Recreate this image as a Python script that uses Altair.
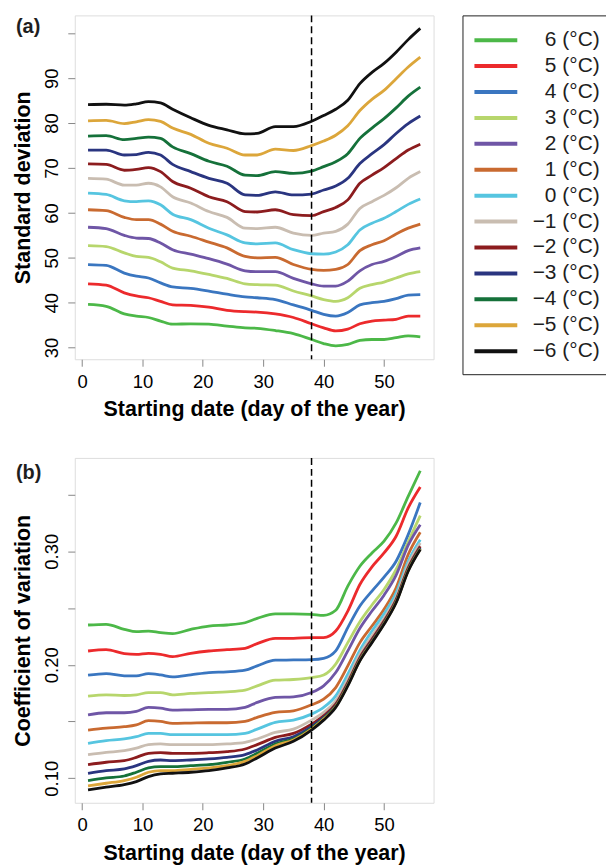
import altair as alt
import pandas as pd

# ---------------- data ----------------
DAYS = [1, 4, 7, 9, 11, 13, 15, 18, 21, 24, 27, 29, 32, 35, 38, 40, 42, 44, 46, 48, 50, 52, 54, 56]

MINUS = "\u2212"
LABELS = ["6 (°C)", "5 (°C)", "4 (°C)", "3 (°C)", "2 (°C)", "1 (°C)", "0 (°C)",
          MINUS + "1 (°C)", MINUS + "2 (°C)", MINUS + "3 (°C)", MINUS + "4 (°C)",
          MINUS + "5 (°C)", MINUS + "6 (°C)"]
COLORS = ["#4cb848", "#ec2a2c", "#3a76c0", "#b7d66c", "#6f56a6", "#c96a30", "#56c5e0",
          "#c9bdb1", "#8c1c1e", "#2a3580", "#15713a", "#dca63a", "#111111"]

CUTOFF_DAY = [38]

# standard deviation (panel a)
sd_6 = [39.6, 39.2, 37.5, 37.0, 36.7, 35.9, 35.2, 35.3, 35.2, 34.8, 34.4, 34.3, 33.8, 33.1, 31.8, 30.9, 30.4, 30.7, 31.6, 31.8, 31.8, 32.2, 32.6, 32.4]
sd_5 = [44.2, 43.9, 42.2, 41.5, 41.1, 40.3, 39.5, 39.4, 39.0, 38.3, 38.0, 37.9, 37.5, 36.7, 35.3, 34.4, 33.7, 34.1, 35.3, 35.9, 36.1, 36.3, 37.0, 37.0]
sd_4 = [48.5, 48.3, 46.6, 45.9, 45.5, 44.4, 43.5, 43.2, 42.6, 41.9, 41.3, 41.1, 40.7, 39.5, 38.3, 37.4, 37.0, 37.8, 39.5, 40.0, 40.3, 40.9, 41.7, 41.8]
sd_3 = [52.7, 52.5, 51.1, 50.3, 50.1, 49.1, 47.7, 47.1, 46.3, 45.4, 44.2, 44.0, 43.9, 42.6, 41.5, 40.7, 40.3, 41.1, 43.2, 44.0, 44.6, 45.5, 46.4, 46.9]
sd_2 = [56.8, 56.5, 55.0, 54.4, 54.3, 53.3, 51.8, 50.8, 49.8, 48.6, 47.1, 46.9, 46.9, 45.4, 44.2, 43.7, 43.7, 44.8, 47.1, 48.5, 49.2, 50.3, 51.6, 52.2]
sd_1 = [60.7, 60.5, 59.0, 58.5, 58.5, 57.5, 55.9, 54.8, 53.5, 52.2, 50.3, 50.0, 50.1, 48.5, 47.4, 47.2, 47.4, 48.5, 51.6, 52.9, 53.8, 55.3, 56.6, 57.5]
sd_0 = [64.4, 64.1, 62.7, 62.5, 62.7, 61.8, 59.7, 58.5, 56.6, 55.1, 53.3, 53.1, 53.3, 51.8, 50.9, 50.8, 51.3, 52.9, 56.2, 57.7, 58.8, 60.3, 61.9, 63.1]
sd_m1 = [67.7, 67.5, 66.2, 66.2, 66.6, 65.8, 63.6, 62.2, 60.3, 59.0, 56.6, 56.5, 56.8, 55.5, 55.0, 55.5, 55.9, 57.5, 61.0, 62.5, 63.9, 65.6, 67.7, 69.2]
sd_m2 = [70.9, 70.8, 69.5, 69.7, 70.1, 69.2, 67.0, 65.5, 63.6, 62.5, 60.3, 60.2, 60.7, 59.6, 59.4, 60.3, 61.2, 62.9, 66.6, 68.4, 70.1, 72.1, 74.0, 75.3]
sd_m3 = [74.0, 74.0, 72.9, 73.0, 73.5, 72.9, 70.8, 69.2, 67.7, 66.6, 64.0, 63.9, 64.7, 64.0, 64.2, 65.1, 66.0, 67.7, 71.0, 73.2, 75.2, 77.7, 79.9, 81.6]
sd_m4 = [77.1, 77.2, 76.3, 76.6, 76.9, 76.6, 74.7, 73.2, 71.5, 70.4, 68.4, 68.3, 69.2, 68.8, 69.3, 70.3, 71.4, 73.2, 76.6, 78.9, 81.0, 83.4, 86.0, 88.0]
sd_m5 = [80.5, 80.6, 79.9, 80.3, 80.8, 80.4, 78.9, 77.5, 75.5, 74.4, 72.9, 72.9, 74.2, 73.9, 75.0, 76.0, 77.3, 79.4, 82.8, 85.3, 87.3, 89.9, 92.5, 94.7]
sd_m6 = [84.1, 84.2, 84.0, 84.3, 84.8, 84.5, 83.1, 81.2, 79.5, 78.5, 77.6, 77.7, 79.2, 79.2, 80.4, 81.7, 83.1, 85.1, 88.8, 91.3, 93.3, 95.8, 98.6, 101.1]

# coefficient of variation (panel b)
cv_6 = [0.2350, 0.2356, 0.2312, 0.2291, 0.2297, 0.2283, 0.2274, 0.2312, 0.2341, 0.2350, 0.2370, 0.2408, 0.2449, 0.2449, 0.2444, 0.2435, 0.2480, 0.2693, 0.2868, 0.2985, 0.3088, 0.3249, 0.3483, 0.3709]
cv_5 = [0.2121, 0.2133, 0.2098, 0.2092, 0.2101, 0.2092, 0.2072, 0.2101, 0.2121, 0.2133, 0.2145, 0.2186, 0.2233, 0.2233, 0.2239, 0.2239, 0.2297, 0.2473, 0.2707, 0.2862, 0.2985, 0.3132, 0.3381, 0.3565]
cv_4 = [0.1908, 0.1922, 0.1902, 0.1902, 0.1922, 0.1911, 0.1893, 0.1911, 0.1931, 0.1937, 0.1952, 0.1990, 0.2040, 0.2042, 0.2045, 0.2057, 0.2122, 0.2327, 0.2517, 0.2649, 0.2772, 0.2912, 0.3146, 0.3430]
cv_3 = [0.1723, 0.1735, 0.1729, 0.1735, 0.1755, 0.1755, 0.1735, 0.1747, 0.1755, 0.1761, 0.1776, 0.1814, 0.1864, 0.1870, 0.1887, 0.1910, 0.2006, 0.2195, 0.2379, 0.2526, 0.2663, 0.2839, 0.3082, 0.3313]
cv_2 = [0.1559, 0.1577, 0.1577, 0.1589, 0.1624, 0.1618, 0.1600, 0.1603, 0.1606, 0.1606, 0.1624, 0.1668, 0.1712, 0.1717, 0.1755, 0.1814, 0.1931, 0.2122, 0.2321, 0.2473, 0.2613, 0.2789, 0.3053, 0.3234]
cv_1 = [0.1425, 0.1442, 0.1454, 0.1471, 0.1507, 0.1501, 0.1483, 0.1486, 0.1489, 0.1489, 0.1501, 0.1536, 0.1580, 0.1594, 0.1647, 0.1697, 0.1799, 0.1990, 0.2195, 0.2341, 0.2488, 0.2678, 0.2971, 0.3167]
cv_0 = [0.1307, 0.1331, 0.1346, 0.1366, 0.1395, 0.1395, 0.1384, 0.1384, 0.1384, 0.1384, 0.1395, 0.1433, 0.1492, 0.1512, 0.1565, 0.1624, 0.1726, 0.1917, 0.2127, 0.2297, 0.2449, 0.2634, 0.2912, 0.3102]
cv_m1 = [0.1208, 0.1228, 0.1243, 0.1266, 0.1296, 0.1302, 0.1296, 0.1296, 0.1296, 0.1302, 0.1316, 0.1346, 0.1404, 0.1433, 0.1512, 0.1580, 0.1682, 0.1873, 0.2092, 0.2253, 0.2408, 0.2596, 0.2883, 0.3073]
cv_m2 = [0.1120, 0.1141, 0.1155, 0.1184, 0.1220, 0.1225, 0.1220, 0.1220, 0.1225, 0.1234, 0.1258, 0.1296, 0.1360, 0.1395, 0.1477, 0.1551, 0.1653, 0.1843, 0.2063, 0.2224, 0.2385, 0.2575, 0.2854, 0.3044]
cv_m3 = [0.1044, 0.1067, 0.1082, 0.1111, 0.1149, 0.1161, 0.1155, 0.1161, 0.1170, 0.1184, 0.1208, 0.1249, 0.1325, 0.1366, 0.1454, 0.1536, 0.1638, 0.1829, 0.2048, 0.2209, 0.2370, 0.2561, 0.2839, 0.3029]
cv_m4 = [0.0980, 0.1003, 0.1020, 0.1053, 0.1091, 0.1102, 0.1102, 0.1111, 0.1120, 0.1141, 0.1170, 0.1220, 0.1302, 0.1346, 0.1442, 0.1527, 0.1633, 0.1823, 0.2042, 0.2203, 0.2364, 0.2555, 0.2833, 0.3023]
cv_m5 = [0.0933, 0.0956, 0.0980, 0.1009, 0.1053, 0.1067, 0.1067, 0.1079, 0.1091, 0.1111, 0.1149, 0.1199, 0.1287, 0.1337, 0.1433, 0.1521, 0.1630, 0.1820, 0.2040, 0.2200, 0.2362, 0.2552, 0.2830, 0.3020]
cv_m6 = [0.0898, 0.0921, 0.0944, 0.0971, 0.1015, 0.1038, 0.1044, 0.1053, 0.1067, 0.1091, 0.1126, 0.1179, 0.1266, 0.1325, 0.1425, 0.1512, 0.1624, 0.1814, 0.2034, 0.2195, 0.2356, 0.2546, 0.2824, 0.3015]

SD_SERIES = [sd_6, sd_5, sd_4, sd_3, sd_2, sd_1, sd_0, sd_m1, sd_m2, sd_m3, sd_m4, sd_m5, sd_m6]
CV_SERIES = [cv_6, cv_5, cv_4, cv_3, cv_2, cv_1, cv_0, cv_m1, cv_m2, cv_m3, cv_m4, cv_m5, cv_m6]

SD_TICKS = [30, 40, 50, 60, 70, 80, 90, 100]
CV_TICKS = [0.10, 0.15, 0.20, 0.25, 0.30, 0.35]
X_TICKS = [0, 10, 20, 30, 40, 50]


def long_frame(series_list):
    rows = []
    for order, (lab, vals) in enumerate(zip(LABELS, series_list)):
        for d, v in zip(DAYS, vals):
            rows.append({"day": d, "value": v, "series": lab, "order": order})
    return pd.DataFrame(rows)


df_sd = long_frame(SD_SERIES)
df_cv = long_frame(CV_SERIES)
df_cut = pd.DataFrame({"day": CUTOFF_DAY})

FONT = "Liberation Sans"
INK = "#1e1e1e"

x_scale = alt.Scale(domain=[-1.2, 58.2], nice=False, zero=False)
x_axis = alt.Axis(values=X_TICKS, title="Starting date (day of the year)", grid=False,
                  labelFontSize=18.5, titleFontSize=21.5, tickSize=7, labelPadding=6,
                  titlePadding=8, domain=False)

color_scale = alt.Scale(domain=LABELS, range=COLORS)


def y_axis(title, values, label_expr, fmt=None):
    kw = dict(values=values, title=title, grid=False, labelAngle=270, labelAlign="center",
              labelBaseline="bottom", labelFontSize=18.5, titleFontSize=21.5, tickSize=7,
              labelPadding=6, titlePadding=8, domain=False, labelExpr=label_expr)
    if fmt:
        kw["format"] = fmt
    return alt.Axis(**kw)


def panel(df, y_title, y_domain, y_vals, label_expr, fmt, tag, tag_y, legend, height):
    lines = alt.Chart(df).mark_line(strokeWidth=2.8, interpolate="monotone").encode(
        x=alt.X("day:Q", scale=x_scale, axis=x_axis),
        y=alt.Y("value:Q", scale=alt.Scale(domain=y_domain, nice=False, zero=False),
                axis=y_axis(y_title, y_vals, label_expr, fmt)),
        color=alt.Color("series:N", scale=color_scale, legend=legend),
        order=alt.Order("order:Q"),
    )
    rule = alt.Chart(df_cut).mark_rule(color="black", strokeWidth=1.5, strokeDash=[7, 4]).encode(
        x=alt.X("day:Q", scale=x_scale)
    )
    tag_layer = alt.Chart(pd.DataFrame({"t": [tag]})).mark_text(
        align="left", baseline="middle", fontSize=20, fontWeight="bold", font=FONT, color=INK
    ).encode(text="t:N", x=alt.value(-59), y=alt.value(tag_y))
    return alt.layer(lines, rule, tag_layer).properties(width=360, height=height)


legend_a = alt.Legend(
    title="\u00a0", titleFontSize=2, titlePadding=0, orient="none", legendX=389, legendY=0,
    strokeColor="#222", padding=10, symbolType="stroke", symbolSize=1849, symbolStrokeWidth=4,
    labelFontSize=21, labelFont=FONT, labelColor=INK, labelAlign="right", labelOffset=80.7,
    rowPadding=0, clipHeight=25.8,
)

panel_a = panel(df_sd, "Standard deviation", [27.4, 104.0], SD_TICKS,
                "datum.value >= 100 ? '' : datum.label", None, "(a)", 12, legend_a, 345)
panel_b = panel(df_cv, "Coefficient of variation", [0.0784, 0.3822], CV_TICKS,
                "round(datum.value * 100) % 10 == 0 ? datum.label : ''", ".2f", "(b)", 15, None, 346)

chart = alt.vconcat(panel_a, panel_b, spacing=35).resolve_legend(color="independent").properties(
    padding={"left": 12, "top": 12, "right": -5, "bottom": 0}
).configure_view(
    stroke="#222", strokeWidth=1.5
).configure_axis(
    labelFont=FONT, titleFont=FONT, labelColor=INK, titleColor=INK, tickColor="#222",
    tickWidth=1.3, titleFontWeight="bold"
).configure(background="white")

chart.save("out.html", embed_options={"renderer": "svg", "actions": False})
